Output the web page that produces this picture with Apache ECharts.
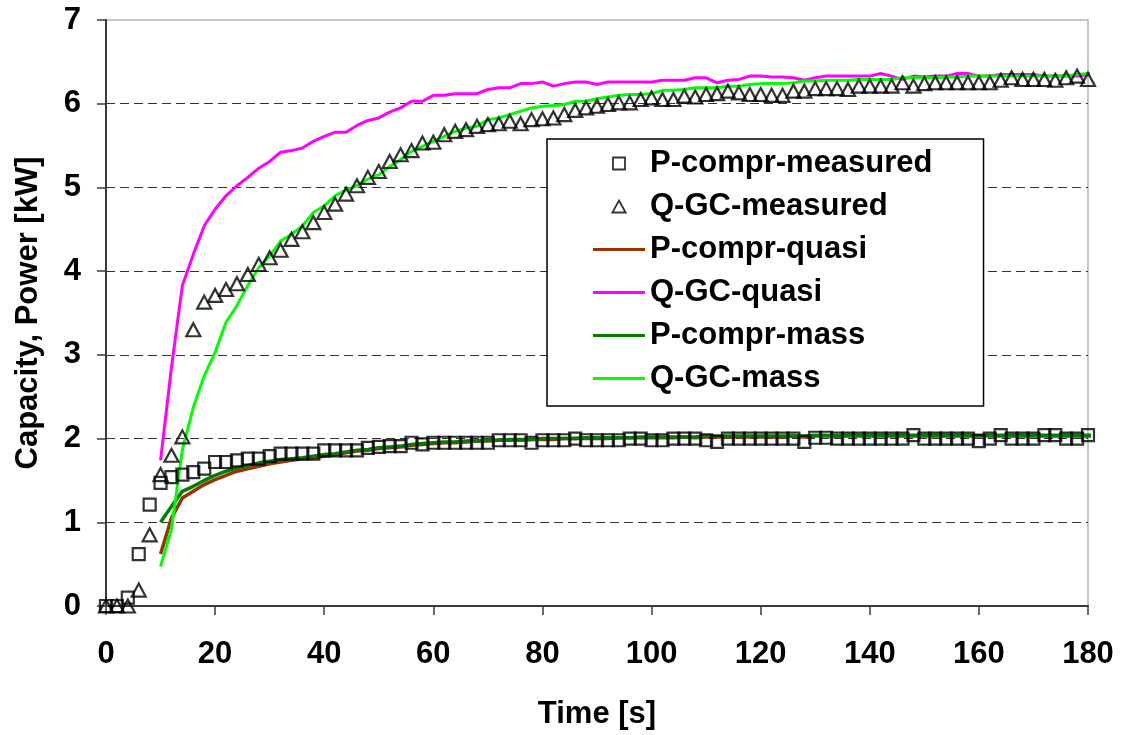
<!DOCTYPE html>
<html><head><meta charset="utf-8">
<script src="https://cdn.jsdelivr.net/npm/echarts@6/dist/echarts.min.js"></script>
<style>html,body{margin:0;padding:0;background:#fff}#c{width:1121px;height:735px}</style>
</head><body><div id="c"></div>
<script>
// ---- data ----
const tMeasured = [0,2,4,6,8,10,12,14,16,18,20,22,24,26,28,30,32,34,36,38,40,42,44,46,48,50,52,54,56,58,60,62,64,66,68,70,72,74,76,78,80,82,84,86,88,90,92,94,96,98,100,102,104,106,108,110,112,114,116,118,120,122,124,126,128,130,132,134,136,138,140,142,144,146,148,150,152,154,156,158,160,162,164,166,168,170,172,174,176,178,180];
const pComprMeasured = [0.00,0.00,0.10,0.62,1.21,1.47,1.54,1.57,1.60,1.64,
 1.72,1.72,1.74,1.76,1.76,1.79,1.82,1.82,1.82,1.82,
 1.86,1.86,1.86,1.86,1.89,1.90,1.91,1.91,1.95,1.93,
 1.95,1.95,1.95,1.95,1.95,1.95,1.98,1.98,1.98,1.95,
 1.98,1.98,1.98,2.00,1.98,1.98,1.98,1.98,2.00,2.00,
 1.98,1.98,2.00,2.00,2.00,1.98,1.96,2.00,2.00,2.00,
 2.00,2.00,2.00,2.00,1.96,2.01,2.01,2.00,2.00,2.00,
 2.00,2.00,2.00,2.00,2.04,2.00,2.00,2.00,2.00,2.00,
 1.97,2.00,2.04,2.00,2.00,2.00,2.04,2.04,2.00,2.00,
 2.04];
const qGCMeasured = [0,0,0,0.19,0.85,1.57,1.80,2.02,3.30,3.63,
 3.71,3.78,3.85,3.96,4.08,4.16,4.25,4.38,4.47,4.58,
 4.70,4.80,4.92,5.02,5.12,5.19,5.31,5.39,5.44,5.53,
 5.54,5.63,5.67,5.69,5.73,5.75,5.76,5.79,5.76,5.81,
 5.82,5.83,5.87,5.92,5.95,5.97,5.99,6.01,6.01,6.05,
 6.07,6.05,6.05,6.09,6.08,6.11,6.12,6.15,6.13,6.11,
 6.11,6.10,6.10,6.15,6.15,6.18,6.18,6.18,6.17,6.21,
 6.21,6.21,6.21,6.25,6.21,6.24,6.25,6.25,6.25,6.25,
 6.25,6.25,6.28,6.31,6.29,6.29,6.29,6.28,6.31,6.33,
 6.29];
const tModel = [10,12,14,16,18,20,22,24,26,28,30,32,34,36,38,40,42,44,46,48,50,52,54,56,58,60,62,64,66,68,70,72,74,76,78,80,82,84,86,88,90,92,94,96,98,100,102,104,106,108,110,112,114,116,118,120,122,124,126,128,130,132,134,136,138,140,142,144,146,148,150,152,154,156,158,160,162,164,166,168,170,172,174,176,178,180,181.5];
const pComprQuasi = [0.62,1.05,1.29,1.37,1.45,1.51,1.56,1.61,1.64,1.67,
 1.70,1.72,1.74,1.76,1.77,1.79,1.81,1.83,1.85,1.86,
 1.88,1.89,1.90,1.92,1.93,1.94,1.95,1.95,1.96,1.97,
 1.97,1.98,1.98,1.98,1.99,1.99,1.99,2.00,2.00,2.00,
 2.00,2.00,2.01,2.01,2.01,2.01,2.01,2.01,2.02,2.01,
 2.02,2.02,2.02,2.02,2.02,2.02,2.02,2.02,2.03,2.02,
 2.03,2.03,2.03,2.03,2.03,2.03,2.03,2.03,2.03,2.03,
 2.03,2.03,2.03,2.03,2.03,2.03,2.03,2.03,2.03,2.03,
 2.03,2.03,2.03,2.03,2.03,2.03,2.03];
const qGCQuasi = [1.74,2.85,3.83,4.20,4.54,4.74,4.90,5.02,5.12,5.23,
 5.31,5.42,5.44,5.47,5.55,5.61,5.66,5.66,5.74,5.80,
 5.83,5.90,5.95,6.03,6.03,6.10,6.10,6.12,6.12,6.12,
 6.17,6.19,6.19,6.24,6.24,6.26,6.21,6.24,6.26,6.26,
 6.23,6.26,6.26,6.26,6.26,6.26,6.28,6.28,6.28,6.31,
 6.31,6.25,6.28,6.29,6.33,6.33,6.32,6.32,6.31,6.28,
 6.31,6.33,6.33,6.33,6.33,6.33,6.36,6.33,6.29,6.33,
 6.32,6.33,6.33,6.36,6.36,6.33,6.33,6.35,6.35,6.35,
 6.35,6.33,6.33,6.33,6.33,6.35,6.35];
const pComprMass = [1.00,1.19,1.37,1.43,1.50,1.56,1.61,1.65,1.68,1.71,
 1.73,1.75,1.76,1.77,1.79,1.81,1.82,1.84,1.86,1.87,
 1.89,1.90,1.91,1.93,1.94,1.95,1.96,1.96,1.97,1.97,
 1.98,1.98,1.99,1.99,1.99,2.00,2.00,2.00,2.00,2.01,
 2.01,2.01,2.01,2.01,2.02,2.02,2.02,2.02,2.02,2.02,
 2.03,2.03,2.03,2.03,2.03,2.03,2.03,2.03,2.03,2.03,
 2.04,2.04,2.03,2.04,2.04,2.04,2.04,2.04,2.04,2.04,
 2.04,2.04,2.04,2.04,2.04,2.04,2.04,2.04,2.04,2.04,
 2.04,2.04,2.04,2.04,2.04,2.04,2.04];
const qGCMass = [0.47,0.92,1.87,2.37,2.75,3.03,3.39,3.59,3.83,4.04,
 4.18,4.36,4.44,4.54,4.70,4.78,4.90,4.97,5.02,5.10,
 5.15,5.25,5.33,5.43,5.49,5.55,5.61,5.67,5.71,5.73,
 5.81,5.83,5.87,5.91,5.95,5.97,5.98,5.99,6.03,6.03,
 6.06,6.08,6.10,6.11,6.11,6.12,6.16,6.16,6.17,6.19,
 6.19,6.19,6.21,6.21,6.23,6.24,6.24,6.24,6.25,6.27,
 6.27,6.28,6.28,6.28,6.29,6.29,6.29,6.29,6.31,6.31,
 6.31,6.31,6.32,6.32,6.33,6.33,6.33,6.33,6.33,6.33,
 6.33,6.33,6.33,6.33,6.35,6.36,6.36];
const xTicks = {min:0, max:180, step:20};
const yTicks = {min:0, max:7, step:1};
const names = ['P-compr-measured','Q-GC-measured','P-compr-quasi','Q-GC-quasi','P-compr-mass','Q-GC-mass'];

// ---- chart ----
const FONT = '"Liberation Sans", Arial, sans-serif';
const txt = {fontFamily:FONT, fontWeight:'bold', fontSize:31, color:'#000'};
function pairs(ts, vs){ return ts.map((t,i)=>[t, vs[i]]); }
const chart = echarts.init(document.getElementById('c'), null, {renderer:'canvas'});
function lineSeries(name, ts, vs, color, width){
  return {name, type:'line', data:pairs(ts,vs), showSymbol:false, symbol:'none', clip:false,
    color, lineStyle:{color, width}, z:2, silent:true};
}
const markerStyle = {color:'rgba(0,0,0,0)', borderColor:'#000', borderWidth:2.2};
const option = {
  animation:false,
  backgroundColor:'#fff',
  grid:{left:106, right:33, top:20, bottom:127, show:true, borderColor:'#b4b4b4', borderWidth:1.5},
  xAxis:{type:'value', min:xTicks.min, max:xTicks.max, interval:xTicks.step,
    name:'Time [s]', nameLocation:'middle', nameGap:93, nameTextStyle:txt,
    axisLine:{show:true, onZero:false, lineStyle:{color:'#3a3a3a', width:2}},
    axisTick:{show:true, length:9, lineStyle:{color:'#3a3a3a', width:1.5}},
    axisLabel:Object.assign({margin:33}, txt),
    splitLine:{show:false}},
  yAxis:{type:'value', min:yTicks.min, max:yTicks.max, interval:yTicks.step,
    name:'Capacity, Power [kW]', nameLocation:'middle', nameGap:62, nameRotate:90, nameTextStyle:txt,
    axisLine:{show:true, lineStyle:{color:'#3a3a3a', width:2}},
    axisTick:{show:true, length:9, lineStyle:{color:'#3a3a3a', width:1.5}},
    axisLabel:Object.assign({margin:25}, txt),
    splitLine:{show:true, showMinLine:false, showMaxLine:false, lineStyle:{color:'#333', width:1, type:[9,5]}}},
  legend:{
    orient:'vertical', left:547, top:139, padding:[9,51,12,46],
    itemWidth:52, itemHeight:12, itemGap:12,
    backgroundColor:'#fff', borderColor:'#000', borderWidth:1.5,
    textStyle:txt, itemStyle:{borderWidth:0}, selectedMode:false,
    data:[
      {name:names[0], icon:'path://M0,0H10V10H0Z', itemStyle:{color:'#fff', borderColor:'#000', borderWidth:1.8}},
      {name:names[1], icon:'path://M5,0L10,9L0,9Z', itemStyle:{color:'#fff', borderColor:'#000', borderWidth:1.8}},
      {name:names[2], icon:'path://M0,0H52V3H0Z'},
      {name:names[3], icon:'path://M0,0H52V3H0Z'},
      {name:names[4], icon:'path://M0,0H52V3H0Z'},
      {name:names[5], icon:'path://M0,0H52V3H0Z'}
    ]
  },
  series:[
    lineSeries(names[2], tModel, pComprQuasi, '#993300', 3.5),
    lineSeries(names[3], tModel, qGCQuasi, '#FF00FF', 3),
    lineSeries(names[4], tModel, pComprMass, '#008000', 3.5),
    lineSeries(names[5], tModel, qGCMass, '#00FF00', 3),
    {name:names[0], type:'scatter', data:pairs(tMeasured,pComprMeasured), symbol:'rect', symbolSize:12,
      itemStyle:markerStyle, z:3, silent:true},
    {name:names[1], type:'scatter', data:pairs(tMeasured,qGCMeasured), symbol:'triangle', symbolSize:[14,13],
      itemStyle:markerStyle, z:3, silent:true}
  ]
};
chart.setOption(option);
</script>
</body></html>
